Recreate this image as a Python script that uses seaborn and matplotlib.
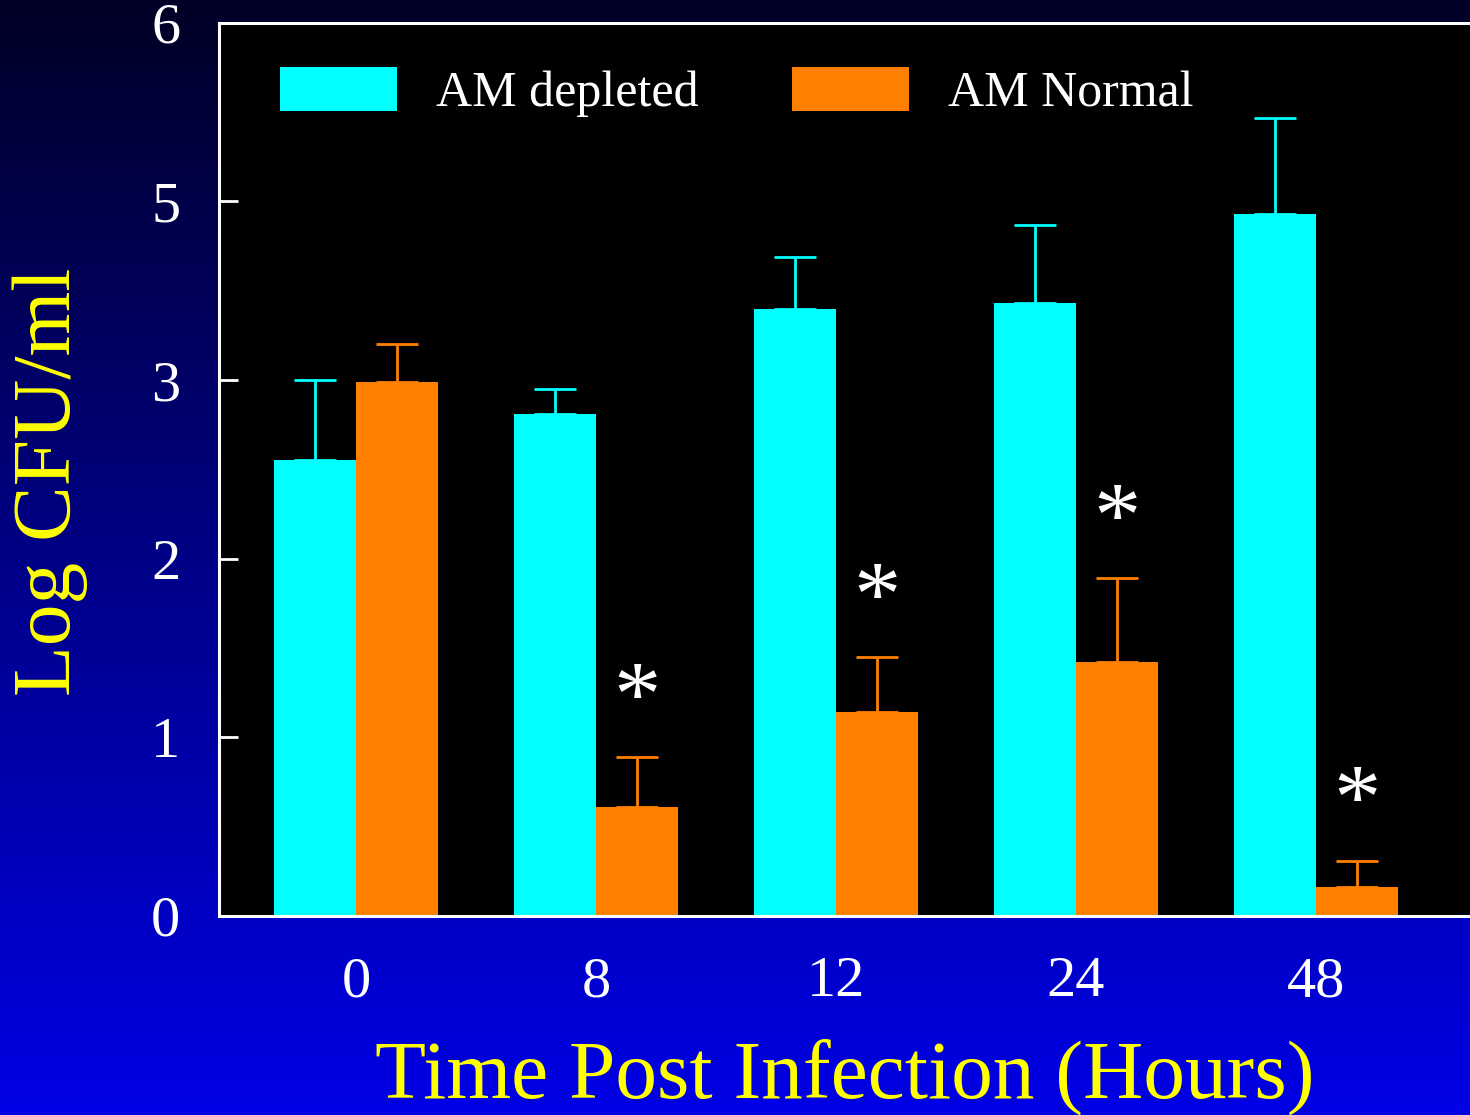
import numpy as np
import pandas as pd
import matplotlib
matplotlib.use("Agg")
import matplotlib.pyplot as plt
import seaborn as sns
from matplotlib.patches import Patch

# ------------------------------------------------------------
# Daten (Werte in Achseneinheiten)
# ------------------------------------------------------------
hours = ["0", "8", "12", "24", "48"]
groups = ["AM depleted", "AM Normal"]
depleted_mean = [2.55, 2.81, 3.40, 3.43, 3.93]
depleted_err = [0.45, 0.14, 0.29, 0.44, 0.54]
normal_mean = [2.99, 0.61, 1.14, 1.42, 0.16]
normal_err = [0.21, 0.28, 0.31, 0.47, 0.15]
significant = [False, True, True, True, True]
ytick_labels = ["0", "1", "2", "3", "5", "6"]

CYAN = "#00ffff"
ORANGE = "#ff8000"
YELLOW = "#ffff00"

df = pd.DataFrame({
    "hours": hours * 2,
    "group": [groups[0]] * len(hours) + [groups[1]] * len(hours),
    "value": depleted_mean + normal_mean,
})

sns.set_style("ticks")
plt.rcParams["font.family"] = ["Liberation Serif", "DejaVu Serif"]

fig = plt.figure(figsize=(14.7, 11.15), dpi=100)

# Hintergrund-Verlauf (dunkelblau oben -> blau unten)
bg = fig.add_axes([0, 0, 1, 1], zorder=-1)
blue = np.linspace(0.15, 0.9, 256)
grad = np.zeros((256, 1, 3))
grad[:, 0, 2] = blue
bg.imshow(grad, aspect="auto", extent=[0, 1, 0, 1])
bg.axis("off")

ax = fig.add_axes([0.149, 0.1785, 0.851, 0.801], zorder=1)
ax.set_facecolor("black")

sns.barplot(data=df, x="hours", y="value", hue="group", order=hours,
            hue_order=groups, palette=[CYAN, ORANGE], width=0.68,
            errorbar=None, saturation=1, legend=False, linewidth=0, ax=ax)

# Fehlerbalken nur nach oben
for container, errs, color in zip(ax.containers, [depleted_err, normal_err], [CYAN, ORANGE]):
    xs = [b.get_x() + b.get_width() / 2 for b in container]
    hs = [b.get_height() for b in container]
    ax.errorbar(xs, hs, yerr=[np.zeros(len(errs)), errs], fmt="none",
                ecolor=color, elinewidth=2, capsize=15, capthick=2, zorder=1)

# Signifikanz-Sternchen über AM Normal
for bar, err, sig in zip(ax.containers[1], normal_err, significant):
    if sig:
        ax.text(bar.get_x() + bar.get_width() / 2, bar.get_height() + err + 0.18, "*",
                ha="center", va="baseline", fontsize=68, color="white")

ax.set_xlim(-0.571, 4.642)
ax.set_ylim(0, 5)
ax.set_yticks(range(len(ytick_labels)))
ax.set_yticklabels(ytick_labels)

for side in ["left", "top", "bottom"]:
    ax.spines[side].set_color("white")
    ax.spines[side].set_linewidth(2.2)
ax.spines["right"].set_visible(False)

ax.tick_params(axis="y", direction="in", length=14, width=2, colors="white",
               labelsize=42, pad=28)
ax.tick_params(axis="x", length=0, labelcolor="white", labelsize=42, pad=29)

ax.set_xlabel("Time Post Infection (Hours)", fontsize=60, color=YELLOW, va="baseline")
ax.xaxis.set_label_coords(0.5, -0.2035)
ax.set_ylabel("Log CFU/ml", fontsize=60, color=YELLOW)
ax.yaxis.set_label_coords(-0.105, 0.486)

handles = [Patch(facecolor=c, edgecolor="none", label=g) for c, g in zip([CYAN, ORANGE], groups)]
ax.legend(handles=handles, ncol=2, loc="upper left", bbox_to_anchor=(0.0488, 0.951),
          frameon=False, fontsize=36, labelcolor="white", handlelength=2.34,
          handleheight=1.0, handletextpad=0.78, columnspacing=1.86,
          borderpad=0, borderaxespad=0)

fig.savefig("out.png", dpi=100)
plt.close(fig)
